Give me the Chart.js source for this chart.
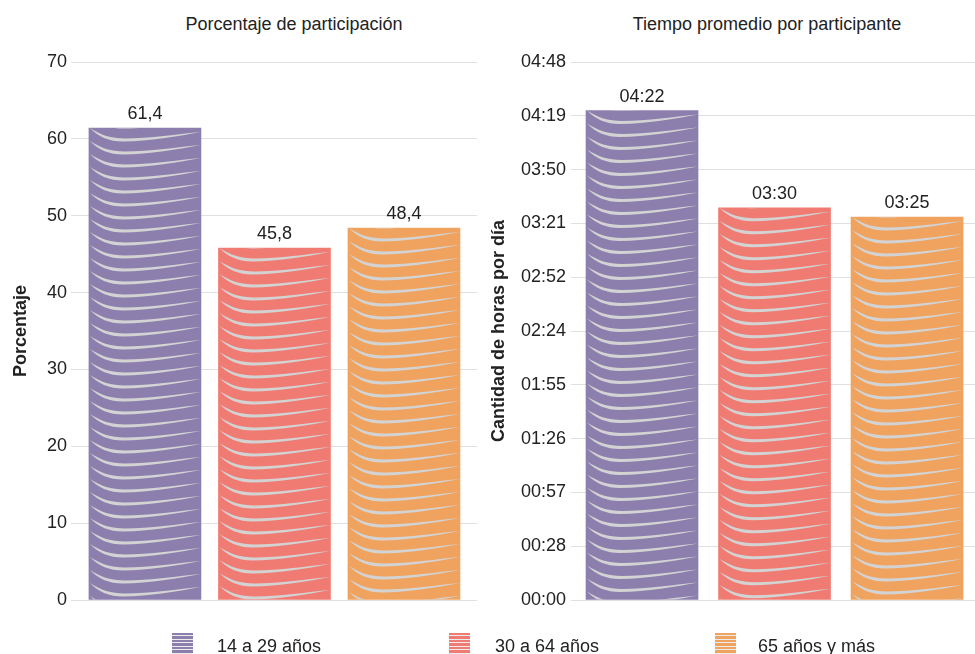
<!DOCTYPE html>
<html lang="es">
<head>
<meta charset="utf-8">
<script src="https://cdn.jsdelivr.net/npm/chart.js@4.4.1/dist/chart.umd.min.js"></script>
<style>
  html, body { margin: 0; padding: 0; background: #fff; }
  body {
    width: 975px; height: 654px; position: relative; overflow: hidden;
    font-family: "Liberation Sans", Arial, sans-serif; color: #222;
  }
  canvas { position: absolute; top: 0; }
  .titulo {
    position: absolute; top: 15px; width: 400px;
    text-align: center; font-size: 18px; line-height: 18px;
  }
  .item { position: absolute; top: 633px; height: 21px; white-space: nowrap; }
  .caja { position: absolute; left: 0; top: 0; width: 21px; height: 21px; }
  .texto { position: absolute; top: 4px; font-size: 18px; line-height: 18px; }
</style>
</head>
<body>
<div class="titulo" style="left:94px">Porcentaje de participación</div>
<div class="titulo" style="left:567px">Tiempo promedio por participante</div>
<canvas id="participacion" width="487" height="654" style="left:0"></canvas>
<canvas id="tiempo" width="488" height="654" style="left:487px"></canvas>
<div id="leyenda"></div>

<script>
const grupos = ['14 a 29 años', '30 a 64 años', '65 años y más'];
const colores = ['#8c7fae', '#f07b73', '#efa35f'];
const participacion = [61.4, 45.8, 48.4];
const tiempoPromedio = ['04:22', '03:30', '03:25'];
const tiempoTicks = ['00:00', '00:28', '00:57', '01:26', '01:55', '02:24',
  '02:52', '03:21', '03:50', '04:19', '04:48'];

const fuente = '"Liberation Sans", Arial, sans-serif';
Chart.defaults.font.family = fuente;
Chart.defaults.font.size = 18;
Chart.defaults.color = '#222';

const aMinutos = (s) => {
  const [h, m] = s.split(':').map(Number);
  return h * 60 + m;
};

// raya curva del relleno de cada barra
const raya = (ctx, L, y0, W) => {
  const k = W / 112;
  ctx.beginPath();
  ctx.moveTo(L + 1 * k, y0);
  ctx.bezierCurveTo(L + 10 * k, y0 + 9, L + 20 * k, y0 + 13.5, L + 34 * k, y0 + 13.5);
  ctx.bezierCurveTo(L + 60 * k, y0 + 13.5, L + 90 * k, y0 + 8, L + W, y0 + 4);
  ctx.bezierCurveTo(L + 90 * k, y0 + 6, L + 60 * k, y0 + 10.5, L + 36 * k, y0 + 10.5);
  ctx.bezierCurveTo(L + 22 * k, y0 + 10.5, L + 12 * k, y0 + 7, L + 1 * k, y0);
  ctx.closePath();
  ctx.fill();
};

const etiquetasPlugin = {
  id: 'etiquetas',
  afterDatasetsDraw(chart, args, opts) {
    const ctx = chart.ctx;
    const meta = chart.getDatasetMeta(0);
    meta.data.forEach((bar, i) => {
      const { x, y, base, width } = bar.getProps(['x', 'y', 'base', 'width'], true);
      const left = x - width / 2;
      ctx.save();
      ctx.beginPath();
      ctx.rect(left, y, width, base - y);
      ctx.clip();
      ctx.fillStyle = '#d3d3d3';
      for (let y0 = y - 13; y0 < base; y0 += 13) raya(ctx, left, y0, width);
      ctx.restore();

      ctx.save();
      ctx.fillStyle = '#222';
      ctx.font = '18px ' + fuente;
      ctx.textAlign = 'center';
      ctx.textBaseline = 'alphabetic';
      ctx.fillText(opts.texto(i), x, y - 9);
      ctx.restore();
    });
  },
};

const crearGrafico = (id, valores, conf) => {
  return new Chart(document.getElementById(id), {
    type: 'bar',
    data: {
      datasets: [{
        data: valores.map((v, i) => ({ x: i, y: v })),
        backgroundColor: colores,
        borderWidth: 0,
        barThickness: 112,
      }],
    },
    options: {
      responsive: false,
      animation: false,
      layout: { padding: { top: 62, bottom: 54, left: 0, right: conf.derecha } },
      plugins: {
        legend: { display: false },
        tooltip: { enabled: false },
        etiquetas: { texto: conf.texto },
      },
      scales: {
        x: {
          type: 'linear',
          display: false,
          offset: false,
          min: conf.xmin,
          max: conf.xmax,
        },
        y: {
          min: 0,
          max: conf.ymax,
          afterFit: (s) => { s.width = conf.ancho; },
          border: { display: false },
          grid: { color: '#e0e0e0', drawTicks: false },
          ticks: { stepSize: conf.paso, padding: conf.pad, callback: conf.tick },
          title: {
            display: true,
            text: conf.titulo,
            font: { weight: 'bold', size: 18 },
            padding: { top: conf.tpad, bottom: 0 },
          },
        },
      },
    },
    plugins: [etiquetasPlugin],
  });
};

crearGrafico('participacion', participacion, {
  derecha: 10,
  xmin: -0.571,
  xmax: 2.564,
  ymax: 70,
  paso: 10,
  ancho: 71,
  pad: 4,
  tpad: 10,
  titulo: 'Porcentaje',
  tick: (v) => v,
  texto: (i) => participacion[i].toFixed(1).replace('.', ','),
});

crearGrafico('tiempo', tiempoPromedio.map(aMinutos), {
  derecha: 0,
  xmin: -0.536,
  xmax: 2.513,
  ymax: 288,
  paso: 28.8,
  ancho: 84,
  pad: 5,
  tpad: 1,
  titulo: 'Cantidad de horas por día',
  tick: (v, i) => tiempoTicks[i],
  texto: (i) => tiempoPromedio[i],
});

// leyenda común
const posLeyenda = [172, 449, 715];
const sepTexto = [45, 46, 43];
const leyenda = document.getElementById('leyenda');
grupos.forEach((g, i) => {
  const item = document.createElement('div');
  item.className = 'item';
  item.style.left = posLeyenda[i] + 'px';
  const caja = document.createElement('div');
  caja.className = 'caja';
  caja.style.background = 'repeating-linear-gradient(to bottom, ' + colores[i] +
    ' 0px, ' + colores[i] + ' 2.5px, rgba(220,220,220,0.55) 2.5px, rgba(220,220,220,0.55) 3.5px)';
  const texto = document.createElement('div');
  texto.className = 'texto';
  texto.style.left = sepTexto[i] + 'px';
  texto.textContent = g;
  item.appendChild(caja);
  item.appendChild(texto);
  leyenda.appendChild(item);
});
</script>
</body>
</html>
